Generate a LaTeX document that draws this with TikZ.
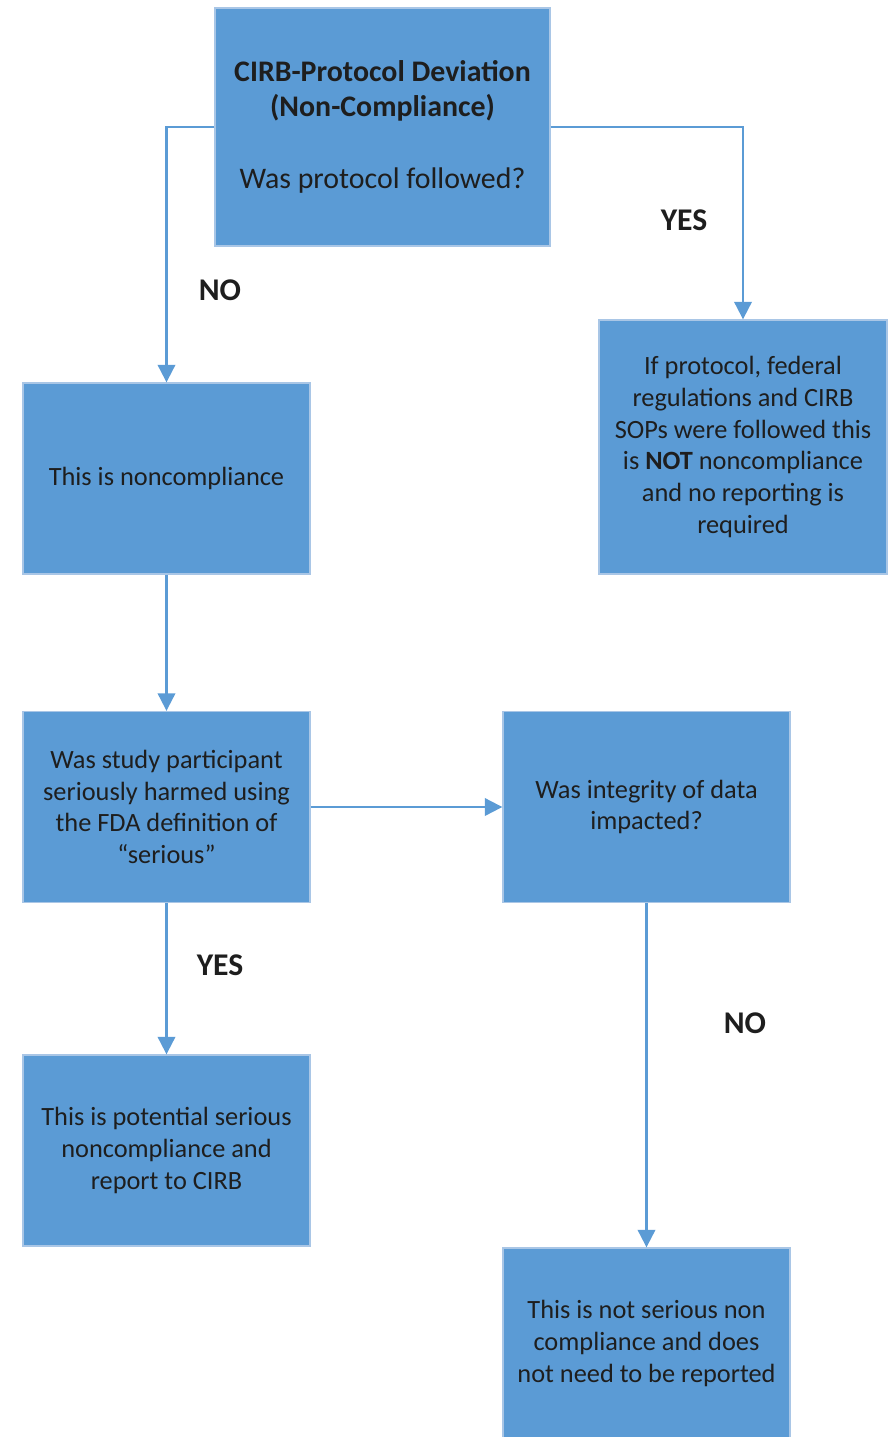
\documentclass[tikz,border=0pt]{standalone}
\usepackage{fontspec}
\setmainfont{Carlito}
\usetikzlibrary{arrows.meta}

\definecolor{boxblue}{HTML}{5B9BD5}
\definecolor{boxedge}{HTML}{A9C6E6}
\definecolor{inktext}{HTML}{1E1E1E}

\begin{document}
\begin{tikzpicture}[
	x=0.02cm, y=-0.02cm,
	box/.style={
		rectangle,
		draw=boxedge,
		line width=0.8pt,
		fill=boxblue,
		text=inktext,
		align=center,
		inner sep=2pt,
		font=\fontsize{15}{18}\selectfont,
		minimum width=5.74cm,
		minimum height=3.82cm
	},
	answer/.style={
		text=inktext,
		font=\fontsize{18}{20}\selectfont\bfseries
	},
	flow/.style={
		draw=boxblue,
		line width=1.2pt,
		-{Triangle[length=10pt, width=10pt]}
	}
	]
	\useasboundingbox (0,0) rectangle (888,1437);
	
	\node[box, minimum width=6.7cm, minimum height=4.76cm, font=\fontsize{17}{20}\selectfont] (deviation) at (382.5,127) {\textbf{CIRB-Protocol Deviation}\\ \textbf{(Non-Compliance)}\\[21pt] Was protocol followed?};
	\node[box, minimum width=5.76cm, minimum height=5.08cm] (followed) at (743,447) {If protocol, federal\\ regulations and CIRB\\ SOPs were followed this\\ is \textbf{NOT} noncompliance\\ and no reporting is\\ required};
	\node[box] (noncomp) at (166.5,478.5) {This is noncompliance};
	\node[box] (harmed) at (166.5,807) {Was study participant\\ seriously harmed using\\ the FDA definition of\\ ``serious''};
	\node[box] (integrity) at (646.5,807) {Was integrity of data\\ impacted?};
	\node[box] (serious) at (166.5,1150.5) {This is potential serious\\ noncompliance and\\ report to CIRB};
	\node[box] (notserious) at (646.5,1343.5) {This is not serious non\\ compliance and does\\ not need to be reported};
	
	% answers beside the arrows
	\node[answer] (yes1) at (684,220) {YES};
	\node[answer] (no1) at (220,290) {NO};
	\node[answer] (yes2) at (220,965) {YES};
	\node[answer] (no2) at (745,1023) {NO};
	
	\draw[flow] (deviation.west) -| (noncomp.north);
	\draw[flow] (deviation.east) -| (followed.north);
	\draw[flow] (noncomp.south) -- (harmed.north);
	\draw[flow] (harmed.east) -- (integrity.west);
	\draw[flow] (harmed.south) -- (serious.north);
	\draw[flow] (integrity.south) -- (notserious.north);
\end{tikzpicture}
\end{document}
